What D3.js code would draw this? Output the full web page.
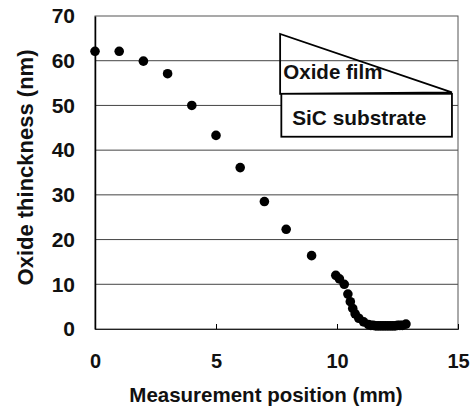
<!doctype html>
<html lang="en">
  <head>
    <meta charset="utf-8">
    <title>Oxide thickness vs measurement position</title>
    <script src="https://d3js.org/d3.v7.min.js"></script>
    <style>
      body { margin: 0; background: #fff; }
      text { font-family: "Liberation Sans", Arial, sans-serif; font-weight: bold; fill: #111; }
    </style>
  </head>
  <body>
    <div id="chart"></div>
    <script>
      // data
      const position = [0, 1, 2, 3, 4, 5, 6, 7, 7.9, 8.95,
        9.95, 10.1, 10.3, 10.45, 10.55, 10.65, 10.75, 10.9, 11.1, 11.3,
        11.4, 11.5, 11.6, 11.7, 11.8, 11.9, 12.0, 12.1, 12.2, 12.3,
        12.4, 12.5, 12.6, 12.7, 12.85];
      const thickness = [62.1, 62.1, 59.9, 57.1, 50.0, 43.3, 36.1, 28.5, 22.3, 16.4,
        12.0, 11.2, 10.0, 7.8, 6.1, 4.6, 3.4, 2.4, 1.6, 1.0,
        0.8, 0.8, 0.7, 0.7, 0.7, 0.7, 0.7, 0.7, 0.7, 0.7,
        0.7, 0.8, 0.8, 0.8, 1.1];
      const xTicks = [0, 5, 10, 15];
      const yTicks = [0, 10, 20, 30, 40, 50, 60, 70];

      const margin = {top: 16, right: 14, bottom: 83, left: 95},
          W = 472, H = 412,
          width = W - margin.left - margin.right,
          height = H - margin.top - margin.bottom;

      const svg = d3.select("#chart").append("svg")
          .attr("width", W).attr("height", H)
        .append("g")
          .attr("transform", `translate(${margin.left},${margin.top})`);

      const x = d3.scaleLinear().domain([0, 15]).range([0, width]);
      const y = d3.scaleLinear().domain([0, 70]).range([height, 0]);

      // horizontal gridlines
      svg.append("g")
        .selectAll("line")
        .data(yTicks.slice(1, -1))
        .join("line")
          .attr("x1", 0).attr("x2", width)
          .attr("y1", d => y(d)).attr("y2", d => y(d))
          .attr("stroke", "#444").attr("stroke-width", 1);

      // frame
      svg.append("rect")
        .attr("width", width).attr("height", height)
        .attr("fill", "none").attr("stroke", "#555").attr("stroke-width", 1);

      // x axis: ticks pointing inward
      const xAxis = svg.append("g")
        .attr("transform", `translate(0,${height})`)
        .call(d3.axisBottom(x).tickValues(xTicks).tickSize(-5).tickPadding(25));
      xAxis.select(".domain").attr("stroke", "#222");
      xAxis.selectAll("text").attr("font-size", 20).attr("fill", "#111");

      const yAxis = svg.append("g")
        .call(d3.axisLeft(y).tickValues(yTicks).tickSize(0).tickPadding(20));
      yAxis.select(".domain").attr("stroke", "#000").attr("stroke-width", 1.5);
      yAxis.selectAll("text").attr("font-size", 21).attr("fill", "#111");

      // inset sketch: oxide wedge on substrate
      const wedge = [[7.65, 66], [7.65, 52.6], [14.75, 52.9]];
      svg.append("path")
        .attr("d", d3.line().x(d => x(d[0])).y(d => y(d[1]))(wedge) + "Z")
        .attr("fill", "none").attr("stroke", "#000").attr("stroke-width", 1.8);
      svg.append("rect")
        .attr("x", x(7.7)).attr("y", y(52.6))
        .attr("width", x(14.75) - x(7.7)).attr("height", y(43.0) - y(52.6))
        .attr("fill", "#fff").attr("stroke", "#000").attr("stroke-width", 1.8);
      svg.append("text")
        .attr("x", x(7.7) + 2).attr("y", y(55.9))
        .attr("font-size", 20.5).text("Oxide film");
      svg.append("text")
        .attr("x", x(8.15)).attr("y", y(45.7))
        .attr("font-size", 20.8).text("SiC substrate");

      // points
      svg.append("g")
        .selectAll("circle")
        .data(position.map((p, i) => [p, thickness[i]]))
        .join("circle")
          .attr("cx", d => x(d[0]))
          .attr("cy", d => y(d[1]))
          .attr("r", 4.8)
          .attr("fill", "#000");

      // axis titles
      svg.append("text")
        .attr("x", 171).attr("y", height + 73)
        .attr("text-anchor", "middle").attr("font-size", 20.5)
        .text("Measurement position (mm)");
      svg.append("text")
        .attr("transform", `translate(${-62},${height / 2 - 5}) rotate(-90)`)
        .attr("text-anchor", "middle").attr("font-size", 22)
        .text("Oxide thinckness (nm)");
    </script>
  </body>
</html>
